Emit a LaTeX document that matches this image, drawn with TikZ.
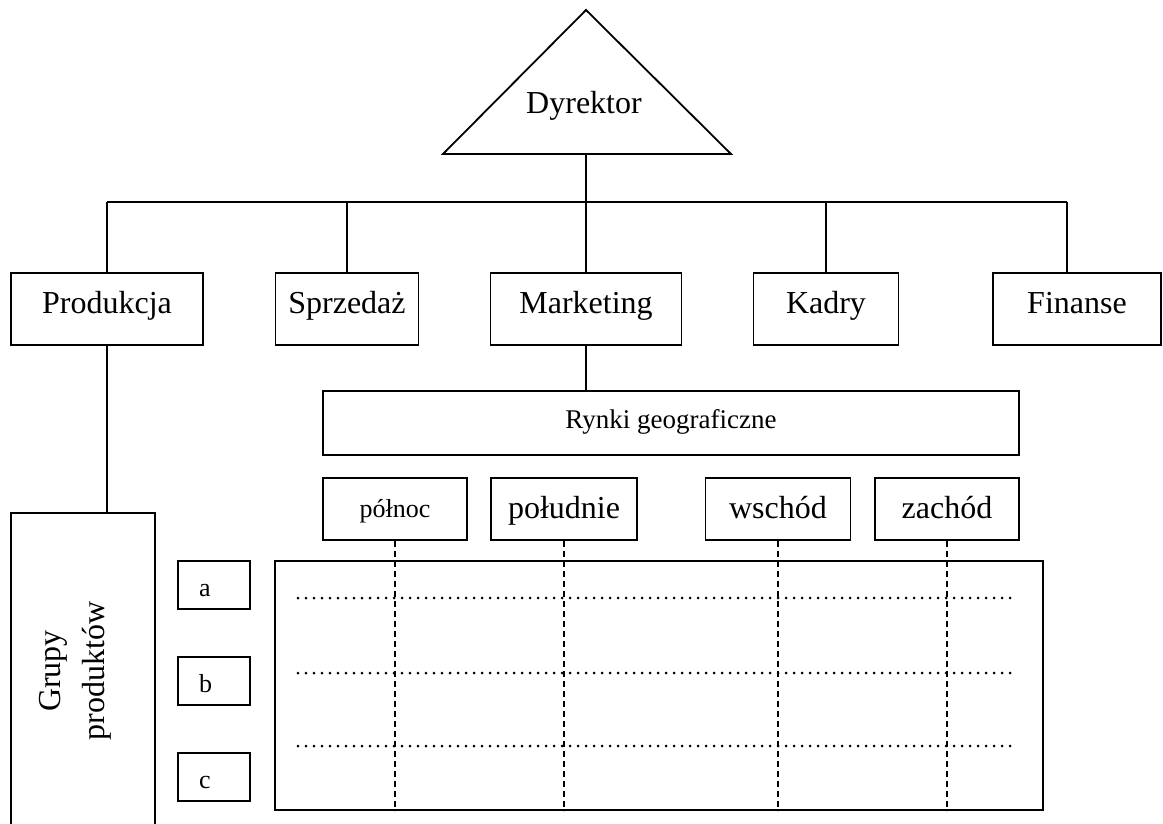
\documentclass[tikz,border=0pt]{standalone}
\usepackage{fontspec}
\setmainfont{Liberation Serif}

\begin{document}
\begin{tikzpicture}[x=1pt, y=-1pt, line width=1.8pt,
    box/.style={draw, inner sep=0pt, font=\fontsize{32}{36}\selectfont},
    dept/.style={box, minimum height=72pt, text height=20pt, text depth=12pt},
    region/.style={box, minimum height=62pt, text height=24pt, text depth=6pt},
    group/.style={box, minimum width=72pt, minimum height=48pt,
        text width=30pt, inner xsep=21pt, align=left,
        text height=22pt, text depth=0pt, font=\fontsize{26}{30}\selectfont},
    dotline/.style={line width=3pt, line cap=round, dash pattern=on 0pt off 8pt},
    dashline/.style={line width=1.5pt, dash pattern=on 6pt off 4pt}]
    \useasboundingbox (0,0) rectangle (1163,824);

    % Dyrektor
    \draw (443,154) -- (586,10) -- (731,154) -- cycle;
    \node[font=\fontsize{32}{36}\selectfont] (dyr) at (584,106) {Dyrektor};
    \coordinate (dyrBase) at (586,154);
    \coordinate (bus) at (586,202);

    % Działy
    \node[dept, minimum width=192pt] (prod) at (107,309) {Produkcja};
    \node[dept, minimum width=143pt] (sprz) at (347,309) {Sprzedaż};
    \node[dept, minimum width=191pt] (mkt)  at (586,309) {Marketing};
    \node[dept, minimum width=145pt] (kadr) at (826,309) {Kadry};
    \node[dept, minimum width=168pt] (fin)  at (1077,309) {Finanse};
    \coordinate (finTop) at ([xshift=-10pt]fin.north);

    \draw (dyrBase) -- (bus);
    \draw (prod.north |- bus) -- (finTop |- bus);
    \foreach \d in {prod, sprz, mkt, kadr}
        \draw (\d.north |- bus) -- (\d.north);
    \draw (finTop |- bus) -- (finTop);

    % Rynki
    \node[box, minimum width=696pt, minimum height=64pt, text height=19pt, text depth=8pt,
        font=\fontsize{27}{30}\selectfont] (rynki) at (671,423) {Rynki geograficzne};
    \draw (mkt.south) -- (mkt.south |- rynki.north);

    \node[region, minimum width=144pt, text height=22pt, text depth=6pt,
        font=\fontsize{26}{30}\selectfont] (pln) at (395,509) {północ};
    \node[region, minimum width=146pt] (pld) at (564,509) {południe};
    \node[region, minimum width=145pt] (wsch) at (778,509) {wschód};
    \node[region, minimum width=144pt] (zach) at (947,509) {zachód};

    % Grupy produktów
    \node[box, minimum width=144pt, minimum height=330pt] (grupy) at (83,678) {};
    \node[rotate=90, align=center, font=\fontsize{32}{44}\selectfont] (grupyTxt) at (75,671)
        {Grupy\\produktów};
    \draw (prod.south) -- (prod.south |- grupy.north);

    \node[group] (ga) at (214,585) {a};
    \node[group] (gb) at (214,681) {b};
    \node[group] (gc) at (214,777) {c};

    % Macierz
    \node[box, minimum width=768pt, minimum height=249pt] (grid) at (659,685.5) {};
    \foreach \y in {598,673,746}
        \draw[dotline] (298,\y) -- (1013,\y);
    \foreach \r in {pln, pld, wsch, zach}
        \draw[dashline] (\r.south) -- (\r.south |- grid.south);
\end{tikzpicture}
\end{document}
